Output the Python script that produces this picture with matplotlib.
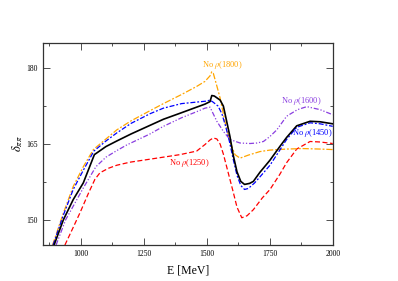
import numpy as np
import matplotlib
matplotlib.use("Agg")
import matplotlib.pyplot as plt

plt.rcParams['font.family'] = ['Liberation Serif', 'DejaVu Serif']
plt.rcParams['mathtext.fontset'] = 'stix'

# full result (black solid)
E_full = [894, 931, 970, 1010, 1054, 1100, 1143, 1200, 1275, 1328, 1400, 1460, 1493, 1513,
          1520, 1530, 1553, 1566, 1579, 1592, 1605, 1620, 1635, 1650, 1670, 1685, 1711, 1751,
          1790, 1817, 1857, 1910, 1950, 2000]
d_full = [145, 150, 154, 157.3, 162.9, 164.5, 165.6, 167.0, 168.7, 169.9, 171.2, 172.3, 172.9, 173.4,
          174.6, 174.5, 173.7, 172.5, 169.5, 166.5, 162.8, 159.5, 157.6, 157.0, 157.2, 157.6, 159.4, 161.8,
          164.5, 166.3, 168.6, 169.5, 169.4, 169.0]

# no rho(1450) (blue dash-dot)
E_1450 = [890, 930, 970, 1010, 1052, 1100, 1143, 1200, 1275, 1328, 1400, 1460, 1500, 1513, 1525,
          1545, 1560, 1575, 1590, 1605, 1620, 1635, 1650, 1665, 1690, 1720, 1751, 1790, 1817,
          1857, 1910, 1950, 2000]
d_1450 = [145, 150.8, 156.0, 159.8, 163.6, 165.6, 167.2, 169.1, 171.0, 172.1, 173.0, 173.3, 173.5, 173.7, 173.3,
          172.5, 171.0, 168.5, 165.5, 162.0, 158.8, 156.8, 156.0, 156.2, 157.3, 159.0, 160.8, 163.8, 165.9,
          168.3, 169.2, 169.0, 168.5]

# no rho(1800) (orange dash-dot)
E_1800 = [888, 930, 970, 1010, 1050, 1100, 1143, 1200, 1275, 1328, 1400, 1460, 1493, 1513, 1520,
          1526, 1540, 1553, 1572, 1592, 1612, 1632, 1665, 1711, 1751, 1817, 1880, 1950, 2000]
d_1800 = [145, 151.2, 156.6, 160.5, 163.9, 166.0, 167.8, 169.6, 171.6, 173.0, 174.8, 176.4, 177.4, 178.5, 179.3,
          179.0, 176.5, 174.1, 169.5, 165.5, 162.9, 162.2, 162.8, 163.5, 163.8, 164.0, 164.1, 164.0, 163.9]

# no rho(1600) (violet dash-dot-dot)
E_1600 = [902, 940, 970, 1010, 1060, 1100, 1143, 1182, 1275, 1328, 1400, 1460, 1493, 1513, 1540,
          1566, 1592, 1632, 1672, 1700, 1725, 1751, 1778, 1817, 1860, 1897, 1950, 2000]
d_1600 = [145, 150, 152.7, 156.3, 160.5, 162.4, 163.7, 164.8, 167.0, 168.5, 170.2, 171.4, 172.1, 172.3, 169.5,
          167.5, 165.9, 165.2, 165.1, 165.2, 165.5, 166.5, 167.8, 170.5, 171.8, 172.4, 171.8, 170.8]

# no rho(1250) (red dashed)
E_1250 = [937, 970, 997, 1030, 1056, 1076, 1110, 1143, 1195, 1275, 1328, 1394, 1460, 1493, 1513,
          1526, 1540, 1553, 1566, 1579, 1592, 1605, 1620, 1639, 1660, 1685, 1720, 1751, 1790, 1817,
          1857, 1910, 1950, 2000]
d_1250 = [145, 148.5, 151.4, 155.2, 158.0, 159.3, 160.2, 160.8, 161.4, 162.0, 162.4, 162.9, 163.6, 164.9, 165.8,
          166.2, 166.0, 165.0, 163.0, 160.5, 158.0, 155.5, 152.5, 150.4, 150.8, 152.0, 154.3, 156.0, 159.0, 161.3,
          164.0, 165.5, 165.4, 165.1]

x_ticks = [1000, 1250, 1500, 1750, 2000]
y_ticks = [150, 165, 180]

fig = plt.figure(figsize=(3.98, 2.81), dpi=100)
ax = fig.add_axes([0.108, 0.128, 0.728, 0.719])

ax.plot(E_1250, d_1250, color='#ff0000', lw=0.9, dashes=(4, 2))
ax.plot(E_1600, d_1600, color='#8a3ee0', lw=0.9, dashes=(4, 1.5, 1, 1.5, 1, 1.5))
ax.plot(E_1800, d_1800, color='#ffa500', lw=0.9, dashes=(5, 1.5, 1.5, 1.5))
ax.plot(E_1450, d_1450, color='#0000ff', lw=0.9, dashes=(4, 1.5, 1.5, 1.5))
ax.plot(E_full, d_full, color='black', lw=1.2)

ax.text(1563, 180.7, r'No $\rho$(1800)', color='#ffa500', fontsize=6, ha='center', va='center')
ax.text(1874, 173.6, r'No $\rho$(1600)', color='#8a3ee0', fontsize=6, ha='center', va='center')
ax.text(1918, 167.2, r'No $\rho$(1450)', color='#0000ff', fontsize=6, ha='center', va='center')
ax.text(1430, 161.3, r'No $\rho$(1250)', color='#ff0000', fontsize=6, ha='center', va='center')

ax.set_xlim(850, 2000)
ax.set_ylim(145, 185)
ax.set_xticks(x_ticks)
ax.set_yticks(y_ticks)
ax.set_xticks(np.arange(875, 2000, 250), minor=True)
ax.set_yticks([157.5, 172.5], minor=True)
ax.tick_params(which='both', direction='in', top=True, right=True, labelsize=5.5, width=0.6, color='#333333')
ax.tick_params(which='major', length=5)
ax.tick_params(which='minor', length=2.5)
for s in ax.spines.values():
    s.set_linewidth(0.9)
    s.set_color('#333333')

ax.set_xlabel('E [MeV]', fontsize=8.5, labelpad=5)
ax.set_ylabel(r'$\delta_{\pi\pi}$', fontsize=9, labelpad=1)

fig.savefig('out.png', dpi=100)
